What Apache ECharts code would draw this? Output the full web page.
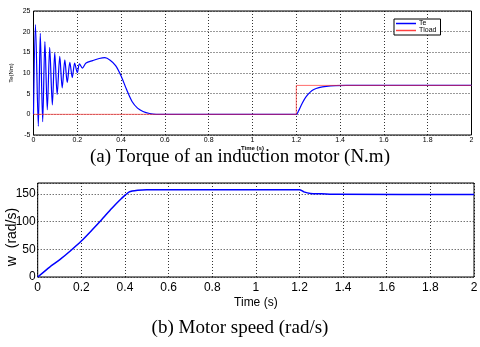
<!DOCTYPE html>
<html><head><meta charset="utf-8">
<script src="https://cdn.jsdelivr.net/npm/echarts@6/dist/echarts.min.js"></script>
<style>html,body{margin:0;padding:0;background:#fff}#c{width:480px;height:347px}</style>
</head><body><div id="c"></div>
<script>
// Torque chart data
var teTime = [0,0.009,0.022,0.031,0.042,0.052,0.063,0.074,0.086,0.097,0.108,0.12,0.131,0.143,0.154,0.166,0.177,0.188,0.2,0.21,0.223,0.24,0.27,0.3,0.326,0.35,0.375,0.4,0.425,0.45,0.475,0.5,0.53,0.56,0.6,1.2,1.21,1.223,1.245,1.28,1.337,1.43,2];
var teVal  = [0,21.7,-2.9,19.6,-1.8,17.6,1.1,16.2,2.3,14.9,4.8,14,6.4,13.2,7.7,12.6,8.9,12.4,10.1,12.2,11.2,12.4,13,13.5,13.7,13.1,11.8,9.3,6,3.1,1.5,0.7,0.2,0,0,0,0.8,2.25,4.3,6,6.75,7,7];
var loadTime = [0,1.2,1.2,2];
var loadVal  = [0,0,7,7];
// Speed chart data
var wTime = [0,0.055,0.1,0.152,0.2,0.249,0.294,0.339,0.384,0.42,0.458,0.5,1.2,1.22,1.25,1.3,1.37,2];
var wVal  = [0,18,31,48,65,85,104,124,142,154,157,158,158,154,151,150.5,149.5,149];
var captionA = "(a) Torque of an induction motor (N.m)";
var captionB = "(b) Motor speed (rad/s)";

function pairs(xs, ys){ return xs.map(function(x,i){return [x, ys[i]];}); }

var NARROW = '"Liberation Sans Narrow", "Arial Narrow", "Liberation Sans"';
var chart = echarts.init(document.getElementById('c'), null, {renderer:'canvas'});
var grid = {show:true, borderColor:'#000', borderWidth:1, backgroundColor:'#fff', containLabel:false, outerBoundsMode:'none'};
var dotted = {show:true, lineStyle:{color:'#000', type:[1,2], width:0.8}};
chart.setOption({
  animation:false,
  grid:[
    Object.assign({left:33.5, right:8.5, top:11, height:124}, grid),
    Object.assign({left:37.7, right:6, top:183, height:94}, grid)
  ],
  legend:{
    data:['Te','Tload'], orient:'vertical', left:394, top:19,
    backgroundColor:'#fff', borderColor:'#000', borderWidth:1, padding:[1,4,1,2],
    itemGap:0, itemWidth:20, itemHeight:1.5, icon:'rect',
    textStyle:{fontSize:7, fontFamily:'Liberation Sans', color:'#000', padding:[0,0,0,-2]}
  },
  xAxis:[
    {gridIndex:0, type:'value', min:0, max:2, interval:0.2,
     name:'Time (s)', nameLocation:'middle', nameGap:8,
     nameTextStyle:{fontSize:6, fontWeight:'bold', fontFamily:'Liberation Sans', color:'#000'},
     axisLine:{show:false}, axisTick:{show:false},
     axisLabel:{fontSize:7, margin:2, color:'#000', fontFamily:'Liberation Sans'},
     splitLine:dotted},
    {gridIndex:1, type:'value', min:0, max:2, interval:0.2,
     name:'Time (s)', nameLocation:'middle', nameGap:20, nameMoveOverlap:false,
     nameTextStyle:{fontSize:12, fontFamily:NARROW, color:'#000'},
     axisLine:{show:false}, axisTick:{show:false},
     axisLabel:{fontSize:12, margin:5, color:'#000', fontFamily:NARROW},
     splitLine:dotted}
  ],
  yAxis:[
    {gridIndex:0, type:'value', min:-5, max:25, interval:5,
     name:'Te(Nm)', nameLocation:'middle', nameGap:19, nameMoveOverlap:false,
     nameTextStyle:{fontSize:6, fontFamily:'Liberation Sans', color:'#000'},
     axisLine:{show:false}, axisTick:{show:false},
     axisLabel:{fontSize:7, margin:3, color:'#000', fontFamily:'Liberation Sans'},
     splitLine:dotted},
    {gridIndex:1, type:'value', min:0, max:170, interval:50,
     name:'w  (rad/s)', nameLocation:'middle', nameGap:19, nameMoveOverlap:false,
     nameTextStyle:{fontSize:14, fontFamily:NARROW, color:'#000', padding:[0,14,0,0]},
     axisLine:{show:false}, axisTick:{show:false},
     axisLabel:{fontSize:12, margin:2, color:'#000', fontFamily:NARROW, showMaxLabel:false,
       formatter:function(v){return v>160?'':String(v);}},
     splitLine:dotted}
  ],
  graphic:[
    {type:'text', left:'center', top:148, style:{text:captionA, font:'19px "Liberation Serif"', fill:'#000'}},
    {type:'text', left:'center', top:319, style:{text:captionB, font:'19px "Liberation Serif"', fill:'#000'}}
  ],
  series:[
    {name:'Te', type:'line', xAxisIndex:0, yAxisIndex:0, data:pairs(teTime, teVal), showSymbol:false,
     smooth:0.3, lineStyle:{color:'#0000ff', width:1.2}, itemStyle:{color:'#0000ff'}, z:2},
    {name:'Tload', type:'line', xAxisIndex:0, yAxisIndex:0, data:pairs(loadTime, loadVal), showSymbol:false,
     lineStyle:{color:'#ff3030', width:1, opacity:0.7}, itemStyle:{color:'#ff4040'}, z:3},
    {name:'w', type:'line', xAxisIndex:1, yAxisIndex:1, data:pairs(wTime, wVal), showSymbol:false,
     smooth:0.2, lineStyle:{color:'#0000ff', width:1.5}, itemStyle:{color:'#0000ff'}, z:2}
  ]
});
</script></body></html>
